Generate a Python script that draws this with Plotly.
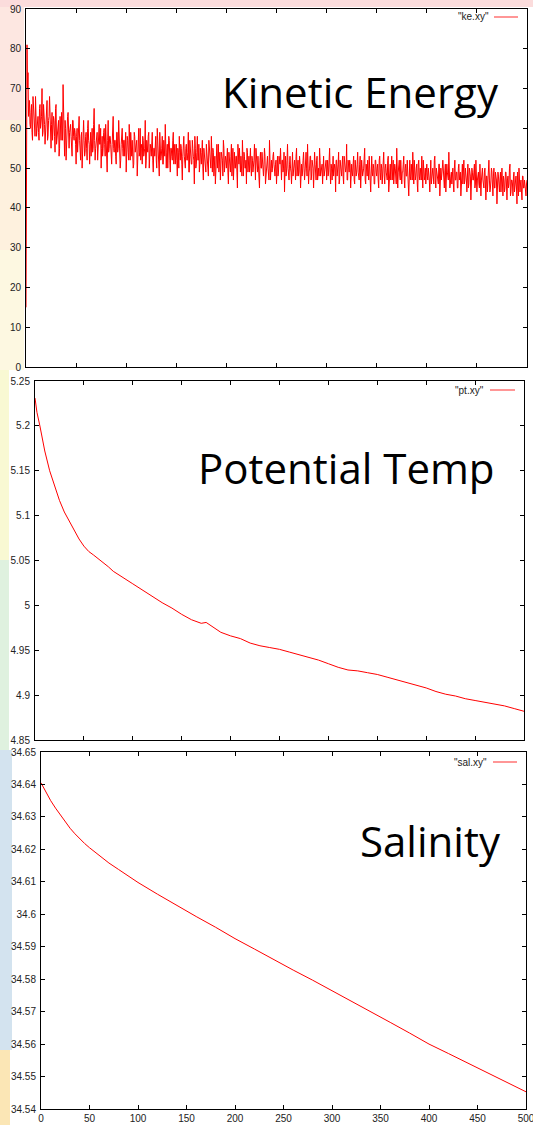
import plotly.graph_objects as go

W, H = 533, 1125

# ---------------- data ----------------
# kinetic energy sampled at whole time steps (x = 0, 1, ..., 500)
ke_values = [
    15, 81, 74, 66, 61, 64, 59, 68, 62, 58, 65, 60, 63, 57, 66, 61, 70, 59, 64, 56, 62, 67, 58, 63, 60,
    55, 64, 59, 62, 54, 66, 58, 61, 53, 63, 57, 60, 71, 56, 62, 52, 59, 64, 55, 60, 58, 53, 62, 57, 59,
    51, 60, 56, 63, 55, 58, 50, 61, 57, 54, 59, 52, 62, 56, 58, 53, 60, 55, 65, 52, 57, 59, 54, 61, 56,
    50, 58, 55, 60, 53, 57, 49, 62, 55, 58, 52, 56, 63, 54, 57, 51, 59, 55, 58, 50, 56, 60, 53, 57, 55,
    49, 58, 54, 61, 52, 56, 57, 50, 59, 54, 56, 48, 58, 53, 60, 55, 51, 57, 54, 62, 52, 55, 58, 50, 56,
    53, 59, 49, 55, 57, 52, 60, 54, 48, 56, 53, 58, 51, 55, 61, 50, 56, 53, 57, 49, 55, 52, 59, 54, 51,
    56, 48, 54, 58, 52, 55, 47, 57, 53, 50, 56, 52, 59, 49, 54, 51, 57, 53, 46, 55, 51, 58, 52, 49, 55,
    51, 57, 47, 53, 50, 56, 52, 48, 55, 51, 58, 49, 54, 52, 46, 53, 50, 56, 51, 47, 54, 52, 57, 49, 53,
    50, 55, 46, 52, 49, 56, 51, 47, 54, 50, 53, 45, 52, 55, 49, 51, 57, 48, 53, 50, 46, 54, 51, 49, 55,
    48, 52, 50, 56, 47, 53, 49, 51, 45, 54, 50, 52, 48, 55, 46, 51, 53, 49, 57, 47, 52, 50, 54, 48, 51,
    46, 53, 49, 51, 55, 47, 52, 50, 44, 53, 49, 56, 48, 51, 50, 46, 54, 49, 52, 47, 55, 50, 48, 53, 45,
    51, 49, 54, 47, 52, 50, 56, 46, 50, 53, 48, 51, 45, 54, 49, 52, 47, 50, 55, 48, 51, 46, 53, 49, 50,
    47, 52, 49, 55, 46, 50, 53, 48, 51, 44, 52, 49, 54, 47, 50, 48, 53, 46, 51, 49, 56, 47, 50, 52, 45,
    51, 48, 53, 46, 50, 49, 54, 47, 51, 45, 52, 48, 50, 55, 46, 49, 52, 47, 51, 44, 53, 48, 50, 46, 52,
    48, 51, 45, 53, 47, 50, 49, 54, 46, 51, 48, 52, 44, 50, 47, 53, 49, 46, 51, 48, 55, 45, 50, 48, 52,
    46, 49, 53, 45, 51, 48, 50, 43, 52, 47, 49, 54, 46, 50, 48, 51, 44, 52, 47, 49, 53, 45, 50, 48, 46,
    51, 47, 49, 44, 52, 48, 50, 46, 53, 45, 49, 47, 51, 43, 50, 48, 52, 46, 49, 44, 51, 47, 54, 45, 48,
    46, 50, 44, 52, 47, 49, 45, 51, 48, 43, 50, 46, 52, 47, 49, 44, 51, 46, 48, 42, 50, 47, 49, 45, 52,
    44, 48, 46, 51, 43, 49, 47, 45, 50, 42, 48, 46, 52, 44, 47, 49, 43, 50, 45, 48, 41, 49, 46, 47, 44,
    50, 43, 47, 45, 49, 42, 48, 46, 51, 44, 47, 43, 49, 45, 48, 41, 46, 50, 44, 47, 42, 48, 45, 46, 43,
    47,
]
# kinetic energy at the half steps (x = 0.5, 1.5, ..., 499.5)
ke_values_half = [
    78, 70, 63, 67, 60, 66, 57, 64, 61, 68, 58, 62, 59, 65, 60, 63, 58, 66, 61, 59, 64, 57, 62, 68, 58,
    61, 57, 63, 58, 65, 56, 60, 62, 55, 59, 64, 57, 61, 53, 60, 58, 63, 56, 59, 61, 54, 62, 58, 60, 56,
    58, 54, 61, 57, 52, 59, 56, 62, 53, 58, 55, 60, 57, 51, 59, 56, 54, 61, 57, 55, 59, 52, 58, 56, 60,
    55, 53, 59, 56, 61, 52, 57, 54, 58, 56, 51, 60, 55, 57, 53, 59, 54, 62, 56, 52, 58, 55, 57, 53, 59,
    54, 57, 52, 56, 59, 53, 55, 51, 58, 55, 57, 53, 60, 54, 52, 56, 58, 53, 55, 50, 57, 54, 59, 52, 55,
    57, 52, 55, 53, 58, 50, 56, 54, 59, 52, 55, 51, 57, 53, 56, 54, 50, 58, 52, 55, 53, 57, 51, 56, 54,
    52, 55, 50, 54, 56, 51, 53, 58, 50, 55, 52, 54, 49, 57, 53, 51, 55, 52, 58, 50, 54, 52, 56, 51, 53,
    54, 50, 55, 52, 49, 54, 51, 57, 53, 50, 52, 55, 48, 53, 51, 56, 52, 49, 54, 51, 53, 48, 55, 51, 52,
    52, 49, 54, 51, 53, 48, 55, 52, 50, 53, 49, 56, 51, 50, 53, 48, 52, 54, 50, 52, 55, 49, 53, 51, 50,
    53, 49, 52, 48, 55, 50, 53, 47, 52, 50, 54, 49, 51, 53, 48, 52, 50, 47, 54, 50, 49, 53, 51, 48, 52,
    50, 48, 53, 51, 47, 52, 49, 54, 50, 48, 52, 50, 47, 53, 49, 52, 48, 51, 50, 53, 48, 52, 49, 51, 50,
    48, 52, 50, 49, 54, 48, 51, 49, 53, 47, 52, 50, 49, 51, 47, 53, 50, 48, 52, 49, 51, 53, 48, 50, 52,
    50, 48, 52, 49, 51, 47, 53, 49, 50, 52, 48, 51, 46, 52, 49, 51, 48, 53, 49, 50, 47, 52, 49, 51, 48,
    49, 51, 47, 52, 48, 51, 49, 47, 53, 48, 50, 49, 52, 47, 51, 48, 50, 53, 47, 50, 49, 51, 46, 52, 49,
    50, 47, 52, 49, 51, 46, 52, 48, 50, 49, 47, 53, 48, 51, 49, 47, 52, 48, 50, 46, 51, 49, 52, 47, 50,
    49, 51, 47, 50, 48, 52, 46, 50, 48, 51, 47, 49, 52, 47, 50, 46, 51, 48, 50, 47, 49, 52, 47, 50, 49,
    48, 50, 47, 51, 46, 49, 48, 52, 47, 50, 48, 46, 51, 49, 47, 50, 48, 45, 51, 48, 49, 47, 50, 46, 49,
    48, 46, 50, 47, 49, 45, 50, 47, 49, 46, 51, 48, 46, 50, 47, 49, 45, 50, 48, 46, 49, 47, 51, 46, 48,
    47, 49, 45, 48, 47, 50, 45, 49, 46, 48, 44, 49, 47, 45, 50, 46, 48, 45, 49, 47, 46, 48, 44, 49, 46,
    46, 48, 44, 49, 46, 47, 45, 50, 43, 47, 46, 48, 44, 47, 45, 49, 43, 47, 46, 44, 48, 45, 47, 44, 46,
]

pt_x = [0, 2, 5, 10, 15, 20, 25, 30, 35, 40, 45, 50, 55, 60, 65, 70, 75, 80, 85, 90,
        100, 110, 120, 130, 140, 150, 160, 170, 175, 180, 190, 200, 210, 220, 230, 240,
        250, 260, 270, 280, 290, 300, 310, 320, 330, 340, 350, 360, 370, 380, 390, 400,
        410, 420, 430, 440, 450, 460, 470, 480, 490, 500]
pt_values = [5.231, 5.215, 5.200, 5.172, 5.150, 5.133, 5.117, 5.104, 5.094, 5.083, 5.074,
             5.066, 5.060, 5.056, 5.052, 5.047, 5.043, 5.038, 5.034, 5.031,
             5.024, 5.017, 5.010, 5.003, 4.997, 4.990, 4.984, 4.980, 4.981, 4.977, 4.970,
             4.966, 4.963, 4.958, 4.955, 4.953, 4.951, 4.948, 4.945, 4.942, 4.939,
             4.935, 4.931, 4.928, 4.927, 4.925, 4.923, 4.920, 4.917, 4.914, 4.911,
             4.908, 4.904, 4.901, 4.899, 4.896, 4.894, 4.892, 4.890, 4.888, 4.885, 4.882]

sal_x = [0, 5, 10, 15, 20, 25, 30, 35, 40, 45, 50, 60, 70, 80, 90, 100, 120, 140, 160,
         180, 200, 220, 240, 260, 280, 300, 320, 340, 360, 380, 400, 420, 440, 460, 480, 500]
sal_values = [34.6405, 34.6375, 34.6350, 34.6327, 34.6305, 34.6285, 34.6265, 34.6248,
              34.6232, 34.6218, 34.6205, 34.6180, 34.6158, 34.6138, 34.6118, 34.6098,
              34.6062, 34.6027, 34.5993, 34.5960, 34.5925, 34.5893, 34.5860, 34.5828,
              34.5797, 34.5765, 34.5733, 34.5700, 34.5667, 34.5634, 34.5600, 34.5571,
              34.5542, 34.5512, 34.5483, 34.5453]

x_ticks = [0, 50, 100, 150, 200, 250, 300, 350, 400, 450, 500]
x_tick_labels = ["0", "50", "100", "150", "200", "250", "300", "350", "400", "450", "500"]
ke_ticks = [0, 10, 20, 30, 40, 50, 60, 70, 80, 90]
ke_tick_labels = ["0", "10", "20", "30", "40", "50", "60", "70", "80", "90"]
pt_ticks = [4.85, 4.9, 4.95, 5.0, 5.05, 5.1, 5.15, 5.2, 5.25]
pt_tick_labels = ["4.85", "4.9", "4.95", "5", "5.05", "5.1", "5.15", "5.2", "5.25"]
sal_ticks = [34.54, 34.55, 34.56, 34.57, 34.58, 34.59, 34.6, 34.61, 34.62, 34.63, 34.64, 34.65]
sal_tick_labels = ["34.54", "34.55", "34.56", "34.57", "34.58", "34.59", "34.6",
                   "34.61", "34.62", "34.63", "34.64", "34.65"]

titles = ["Kinetic Energy", "Potential Temp", "Salinity"]
legend_names = ['"ke.xy"', '"pt.xy"', '"sal.xy"']

# merge whole and half steps into one time-ordered series
ke_x, ke_y = [], []
for i, v in enumerate(ke_values):
    ke_x.append(float(i))
    ke_y.append(v)
    if i < len(ke_values_half):
        ke_x.append(i + 0.5)
        ke_y.append(ke_values_half[i])

# ---------------- layout helpers ----------------
def px_x(p):
    return p / W

def px_y(p):
    return 1 - p / H

# panel boxes in pixels: left, right, top, bottom
panels = [(26, 527, 9, 367), (35, 524, 381, 740), (41, 526, 752, 1109)]

fig = go.Figure()
series = [(ke_x, ke_y), (pt_x, pt_values), (sal_x, sal_values)]
widths = [1, 1, 1]
for i, (xs, ys) in enumerate(series):
    fig.add_trace(go.Scatter(
        x=xs, y=ys, mode="lines",
        line=dict(color="#ff0000", width=widths[i]),
        xaxis="x" if i == 0 else f"x{i+1}",
        yaxis="y" if i == 0 else f"y{i+1}",
        showlegend=False, hoverinfo="skip",
    ))

tick_font = dict(family="Liberation Sans, Arial, sans-serif", size=10, color="#222222")
yticks = [(ke_ticks, ke_tick_labels, [0, 90]),
          (pt_ticks, pt_tick_labels, [4.85, 5.25]),
          (sal_ticks, sal_tick_labels, [34.54, 34.65])]

layout = dict(
    width=W, height=H,
    margin=dict(l=0, r=0, t=0, b=0, autoexpand=False),
    paper_bgcolor="white", plot_bgcolor="white",
    showlegend=False,
)
for i, (l, r, t, b) in enumerate(panels):
    xa = "xaxis" if i == 0 else f"xaxis{i+1}"
    ya = "yaxis" if i == 0 else f"yaxis{i+1}"
    yid = "y" if i == 0 else f"y{i+1}"
    xid = "x" if i == 0 else f"x{i+1}"
    layout[xa] = dict(
        domain=[px_x(l), px_x(r)], anchor=yid, range=[0, 500],
        tickmode="array", tickvals=x_ticks, ticktext=x_tick_labels,
        showticklabels=(i == 2), ticks="inside", ticklen=4, tickwidth=1,
        tickcolor="black", showline=True, linecolor="black", linewidth=1,
        mirror="ticks", showgrid=False, zeroline=False, tickfont=tick_font,
        automargin=False, ticklabeloverflow="allow",
    )
    tv, tt, rng = yticks[i]
    layout[ya] = dict(
        domain=[px_y(b), px_y(t)], anchor=xid, range=rng,
        tickmode="array", tickvals=tv, ticktext=tt,
        ticks="inside", ticklen=4, tickwidth=1, tickcolor="black",
        showline=True, linecolor="black", linewidth=1, mirror="ticks",
        showgrid=False, zeroline=False, tickfont=tick_font,
        automargin=False, ticklabelstandoff=2, ticklabeloverflow="allow",
    )
fig.update_layout(**layout)

# pastel slide background peeking out at the left / top edges
bg_rects = [
    (0, 533, 0, 7, "rgba(250,205,205,0.7)"),
    (0, 24, 7, 120, "rgba(252,215,205,0.6)"),
    (0, 24, 120, 250, "rgba(253,232,200,0.6)"),
    (0, 24, 250, 370, "rgba(252,244,205,0.6)"),
    (0, 9, 370, 560, "rgba(248,248,200,0.8)"),
    (0, 9, 560, 750, "rgba(215,238,215,0.8)"),
    (0, 12, 750, 1050, "rgba(200,220,235,0.8)"),
    (0, 10, 1050, 1125, "rgba(250,220,150,0.7)"),
]
for x0, x1, y0, y1, c in bg_rects:
    fig.add_shape(type="rect", xref="paper", yref="paper", layer="below",
                  x0=px_x(x0), x1=px_x(x1), y0=px_y(y1), y1=px_y(y0),
                  line=dict(width=0), fillcolor=c)

# big titles
title_pos = [(501, 92), (497, 468), (503, 840)]
for (xr, yc), txt in zip(title_pos, titles):
    fig.add_annotation(
        x=px_x(xr), y=px_y(yc), xref="paper", yref="paper",
        xanchor="right", yanchor="middle", showarrow=False, text=txt,
        font=dict(family="Open Sans, sans-serif", size=42, color="black"),
    )

# gnuplot-style keys
key_pos = [(491, 17, 494, 518), (486, 390, 490, 515), (489, 762, 493, 517)]
for (xt, yt, x0, x1), name in zip(key_pos, legend_names):
    fig.add_annotation(
        x=px_x(xt), y=px_y(yt), xref="paper", yref="paper",
        xanchor="right", yanchor="middle", showarrow=False, text=name,
        font=dict(family="Liberation Sans, Arial, sans-serif", size=10, color="#222222"),
    )
    fig.add_shape(type="line", xref="paper", yref="paper",
                  x0=px_x(x0), x1=px_x(x1), y0=px_y(yt), y1=px_y(yt),
                  line=dict(color="rgba(255,0,0,0.55)", width=1.5))

fig.write_html(
    "out.html",
    config={"displayModeBar": False, "staticPlot": True},
    post_script="document.body.style.margin='0px';document.body.style.overflow='hidden';",
)
